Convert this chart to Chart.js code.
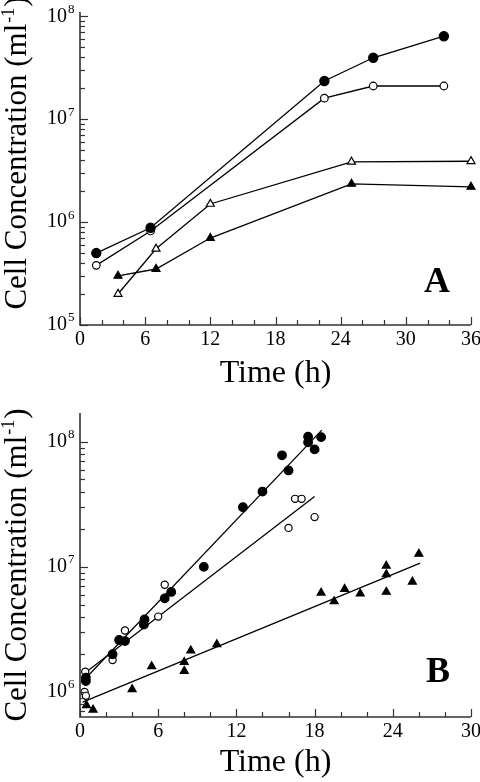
<!DOCTYPE html>
<html><head><meta charset="utf-8">
<script src="https://cdn.jsdelivr.net/npm/chart.js@4.4.1/dist/chart.umd.min.js"></script>
<style>
html,body{margin:0;padding:0;background:#fff;}
#wrap{position:relative;width:480px;height:782px;background:#fff;}
.panel{position:absolute;left:0;width:480px;}
#pa{top:0;height:390px;}
#pb{top:390px;height:392px;}
</style></head><body>
<div id="wrap">
<div class="panel" id="pa"><canvas id="ca"></canvas></div>
<div class="panel" id="pb"><canvas id="cb"></canvas></div>
</div>
<script>
// ---------- Panel A data ----------
const aCircleTime = [1.5, 6.5, 22.5, 27, 33.5];
const aFilledCircle = [5.0e5, 8.8e5, 2.35e7, 3.95e7, 6.4e7];
const aOpenCircle = [3.8e5, 8.2e5, 1.6e7, 2.1e7, 2.1e7];
const aTriTime = [3.5, 7, 12, 25, 36];
const aOpenTri = [2.0e5, 5.5e5, 1.5e6, 3.85e6, 3.9e6];
const aFilledTri = [3.0e5, 3.5e5, 7.0e5, 2.35e6, 2.2e6];

// ---------- Panel B data ----------
const bFilledCircleTime = [0.45, 0.45, 2.5, 3.0, 3.45, 4.95, 4.9, 6.5, 7.0, 9.5, 12.5, 14.0, 15.5, 16.0, 17.5, 17.5, 18.0, 18.5];
const bFilledCircle = [1.3e6, 1.22e6, 2.0e6, 2.6e6, 2.55e6, 3.8e6, 3.45e6, 5.6e6, 6.3e6, 1.0e7, 3.0e7, 4.0e7, 7.8e7, 5.9e7, 1.1e8, 9.9e7, 8.7e7, 1.09e8];
const bOpenCircleTime = [0.4, 0.35, 0.45, 2.5, 3.45, 6.0, 6.5, 16.0, 16.5, 17.0, 18.0];
const bOpenCircle = [1.45e6, 1.0e6, 9.3e5, 1.8e6, 3.1e6, 4.0e6, 7.2e6, 2.05e7, 3.5e7, 3.5e7, 2.5e7];
const bTriTime = [0.5, 1.0, 4.0, 5.5, 8.0, 8.0, 8.5, 10.5, 18.5, 19.5, 20.3, 21.5, 23.5, 23.5, 23.5, 25.5, 26.0];
const bTri = [7.8e5, 7.2e5, 1.05e6, 1.6e6, 1.73e6, 1.47e6, 2.14e6, 2.4e6, 6.2e6, 5.3e6, 6.65e6, 6.1e6, 1.02e7, 8.7e6, 6.3e6, 7.6e6, 1.27e7];
// fitted lines (end points)
const bFitFilledCircleTime = [0.2, 18.55];
const bFitFilledCircle = [1.21e6, 1.24e8];
const bFitOpenCircleTime = [0.2, 18.0];
const bFitOpenCircle = [1.37e6, 3.65e7];
const bFitTriTime = [0.2, 26.1];
const bFitTri = [8.3e5, 1.07e7];

// ---------- Ticks / labels ----------
const aXTicks = [0, 6, 12, 18, 24, 30, 36];
const bXTicks = [0, 6, 12, 18, 24, 30];
const aYDecades = [5, 6, 7, 8];
const bYDecades = [6, 7, 8];
const xTitle = 'Time (h)';
const yTitleMain = 'Cell Concentration (ml';
const yTitleSup = '-1';
const yTitleEnd = ')';

const serif = '"Liberation Serif", "Times New Roman", serif';

function pts(xs, ys) { return xs.map((x, i) => ({x: x, y: ys[i]})); }

const axisDecor = {
  id: 'axisDecor',
  afterDraw(chart, args, o) {
    const ctx = chart.ctx, xs = chart.scales.x, ys = chart.scales.y, ca = chart.chartArea;
    ctx.save();
    ctx.strokeStyle = '#333';
    ctx.fillStyle = '#000';
    ctx.lineWidth = 1.6;
    ctx.beginPath();
    ctx.moveTo(ca.left, ca.top); ctx.lineTo(ca.left, ca.bottom); ctx.lineTo(ca.right, ca.bottom);
    ctx.stroke();
    ctx.lineWidth = 1.2;
    const xMin = xs.min, xMax = xs.max;
    for (let t = xMin; t <= xMax + 1e-9; t += o.xMinor) {
      const px = Math.round(xs.getPixelForValue(t)) + 0.5;
      const major = o.xTicks.some(v => Math.abs(v - t) < 1e-6);
      const len = major ? 8 : 5;
      ctx.beginPath(); ctx.moveTo(px, ca.bottom); ctx.lineTo(px, ca.bottom - len); ctx.stroke();
    }
    ctx.font = '20px ' + serif;
    ctx.textAlign = 'center'; ctx.textBaseline = 'middle';
    o.xTicks.forEach(v => {
      ctx.fillText(String(v), xs.getPixelForValue(v), ca.bottom + o.xLabelOffset);
    });
    const yMin = ys.min, yMax = ys.max;
    const d0 = Math.floor(Math.log10(yMin)), d1 = Math.ceil(Math.log10(yMax));
    for (let d = d0; d <= d1; d++) {
      for (let m = 1; m <= 9; m++) {
        const v = m * Math.pow(10, d);
        if (v < yMin * 0.999 || v > yMax * 1.001) continue;
        const py = Math.round(ys.getPixelForValue(v)) + 0.5;
        const len = m === 1 ? 8 : 5;
        ctx.beginPath(); ctx.moveTo(ca.left, py); ctx.lineTo(ca.left + len, py); ctx.stroke();
      }
    }
    o.yDecades.forEach(d => {
      const py = ys.getPixelForValue(Math.pow(10, d));
      ctx.font = '20px ' + serif;
      ctx.textAlign = 'right'; ctx.textBaseline = 'middle';
      ctx.fillText('10', 67, py);
      ctx.font = '13px ' + serif;
      ctx.textAlign = 'left';
      ctx.fillText(String(d), 68, py - 7);
    });
    ctx.font = '32px ' + serif;
    ctx.textAlign = 'center'; ctx.textBaseline = 'middle';
    ctx.fillText(xTitle, (ca.left + ca.right) / 2, o.xTitleY);
    ctx.save();
    ctx.translate(o.yTitleX, o.yTitleY);
    ctx.rotate(-Math.PI / 2);
    ctx.textBaseline = 'alphabetic'; ctx.textAlign = 'left';
    ctx.font = '31px ' + serif;
    const w1 = ctx.measureText(yTitleMain).width;
    const w3 = ctx.measureText(yTitleEnd).width;
    ctx.font = '18px ' + serif;
    const w2 = ctx.measureText(yTitleSup).width;
    let x0 = -(w1 + w2 + w3) / 2;
    ctx.font = '31px ' + serif;
    ctx.fillText(yTitleMain, x0, 0);
    ctx.font = '18px ' + serif;
    ctx.fillText(yTitleSup, x0 + w1 + 1, -12);
    ctx.font = '31px ' + serif;
    ctx.fillText(yTitleEnd, x0 + w1 + w2 + 2, 0);
    ctx.restore();
    ctx.font = 'bold 36px ' + serif;
    ctx.textAlign = 'center'; ctx.textBaseline = 'middle';
    ctx.fillText(o.letter, o.letterX, o.letterY);
    ctx.restore();
  }
};

function markerDs(data, style, filled, radius, withLine) {
  return {
    data: data,
    showLine: withLine,
    borderColor: '#000',
    backgroundColor: filled ? '#000' : '#fff',
    pointStyle: style,
    pointRadius: radius,
    pointHoverRadius: radius,
    pointBorderWidth: 1.2,
    pointBorderColor: '#000',
    pointBackgroundColor: filled ? '#000' : '#fff',
    borderWidth: 1.3,
    tension: 0,
    clip: false
  };
}
function lineDs(data) {
  return {
    data: data, showLine: true, borderColor: '#000', borderWidth: 1.3,
    pointRadius: 0, pointHoverRadius: 0, tension: 0, clip: false
  };
}

function baseOptions(xmin, xmax, ymin, ymax, pad, decor) {
  return {
    responsive: false,
    animation: false,
    events: [],
    layout: {padding: pad},
    plugins: {legend: {display: false}, tooltip: {enabled: false}, axisDecor: decor},
    scales: {
      x: {type: 'linear', min: xmin, max: xmax, display: false},
      y: {type: 'logarithmic', min: ymin, max: ymax, display: false}
    }
  };
}

function makeCanvas(id, w, h) {
  const c = document.getElementById(id);
  c.width = w; c.height = h; c.style.width = w + 'px'; c.style.height = h + 'px';
  return c;
}

new Chart(makeCanvas('ca', 480, 390), {
  type: 'scatter',
  data: {datasets: [
    markerDs(pts(aCircleTime, aFilledCircle), 'circle', true, 4.6, true),
    markerDs(pts(aCircleTime, aOpenCircle), 'circle', false, 3.8, true),
    markerDs(pts(aTriTime, aOpenTri), 'triangle', false, 4.6, true),
    markerDs(pts(aTriTime, aFilledTri), 'triangle', true, 4.6, true)
  ]},
  options: baseOptions(0, 36, 1e5, 1.1e8, {left: 80, right: 9, top: 12, bottom: 65},
    {xMinor: 2, xTicks: aXTicks, yDecades: aYDecades, xLabelOffset: 15, xTitleY: 374,
     yTitleX: 26, yTitleY: 154, letter: 'A', letterX: 437, letterY: 283}),
  plugins: [axisDecor]
});

new Chart(makeCanvas('cb', 480, 392), {
  type: 'scatter',
  data: {datasets: [
    markerDs(pts(bFilledCircleTime, bFilledCircle), 'circle', true, 4.3, false),
    markerDs(pts(bOpenCircleTime, bOpenCircle), 'circle', false, 3.6, false),
    markerDs(pts(bTriTime, bTri), 'triangle', true, 4.6, false),
    lineDs(pts(bFitFilledCircleTime, bFitFilledCircle)),
    lineDs(pts(bFitOpenCircleTime, bFitOpenCircle)),
    lineDs(pts(bFitTriTime, bFitTri))
  ]},
  options: baseOptions(0, 30, 6.3e5, 1.7e8, {left: 80, right: 9, top: 23, bottom: 65},
    {xMinor: 2, xTicks: bXTicks, yDecades: bYDecades, xLabelOffset: 15, xTitleY: 373,
     yTitleX: 26, yTitleY: 176, letter: 'B', letterX: 438, letterY: 283}),
  plugins: [axisDecor]
});
</script>
</body></html>
